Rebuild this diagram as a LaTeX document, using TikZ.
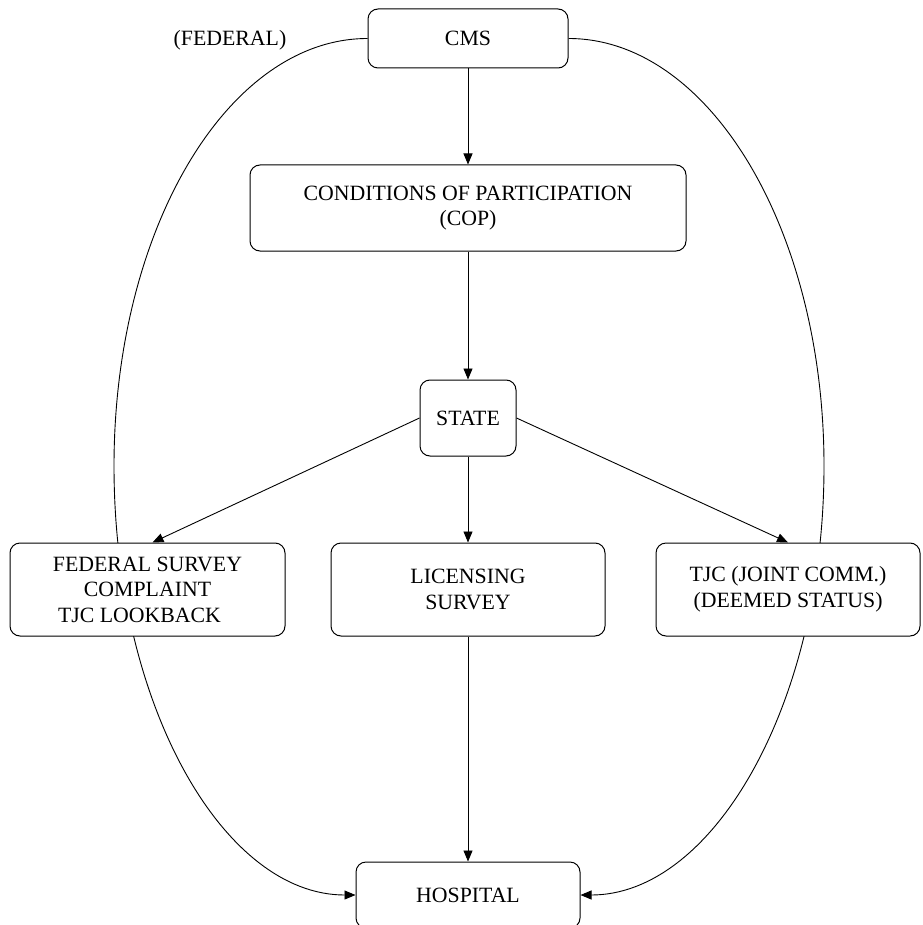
\documentclass[tikz,border=0pt]{standalone}
\usepackage{fontspec}
\setmainfont{Liberation Serif}
\usetikzlibrary{arrows.meta,backgrounds}
\begin{document}
\begin{tikzpicture}[x=1pt,y=-1pt,
  box/.style={draw, rounded corners=10pt, fill=white, align=center, inner sep=0pt,
              font=\fontsize{21.8}{25.5}\selectfont, line width=1pt},
  lbl/.style={font=\fontsize{21.8}{25.5}\selectfont, inner sep=0pt},
  arr/.style={-{Triangle[length=11pt,width=9pt]}, line width=0.9pt},
  curv/.style={line width=0.9pt}]
\useasboundingbox (0,0) rectangle (922,925);

\node[box, minimum width=200pt, minimum height=59pt] (cms) at (468,38.5) {CMS};
\node[lbl] (fed) at (230,40) {(FEDERAL)};
\node[box, minimum width=436pt, minimum height=86pt] (cop) at (468,208) {CONDITIONS OF PARTICIPATION\\(COP)};
\node[box, minimum width=96pt, minimum height=76pt] (state) at (468,418) {STATE};
\node[box, minimum width=275pt, minimum height=93pt] (fs) at (147.5,589.5) {FEDERAL SURVEY\\COMPLAINT\\TJC LOOKBACK\kern16pt};
\node[box, minimum width=274pt, minimum height=93pt] (lic) at (468,589.5) {LICENSING\\SURVEY};
\node[box, minimum width=264pt, minimum height=93pt] (tjc) at (788,589.5) {TJC (JOINT COMM.)\\(DEEMED STATUS)};
\node[box, minimum width=224pt, minimum height=66pt] (hosp) at (468,895) {HOSPITAL};

\coordinate (L) at (114,466);
\coordinate (R) at (824,466);

\begin{scope}[on background layer]
  \draw[curv, arr] (cms.west) .. controls +(-140,0) and +(0,-236) .. (L)
        .. controls +(0,237) and +(-133,0) .. (hosp.west);
  \draw[curv, arr] (cms.east) .. controls +(141,0) and +(0,-236) .. (R)
        .. controls +(0,237) and +(133,0) .. (hosp.east);
\end{scope}

\draw[arr] (cms.south) -- (cop.north);
\draw[arr] (cop.south) -- (state.north);
\draw[arr] (state.west) -- ([xshift=5pt]fs.north);
\draw[arr] (state.south) -- (lic.north);
\draw[arr] (state.east) -- (tjc.north);
\draw[arr] (lic.south) -- (hosp.north);
\end{tikzpicture}
\end{document}
